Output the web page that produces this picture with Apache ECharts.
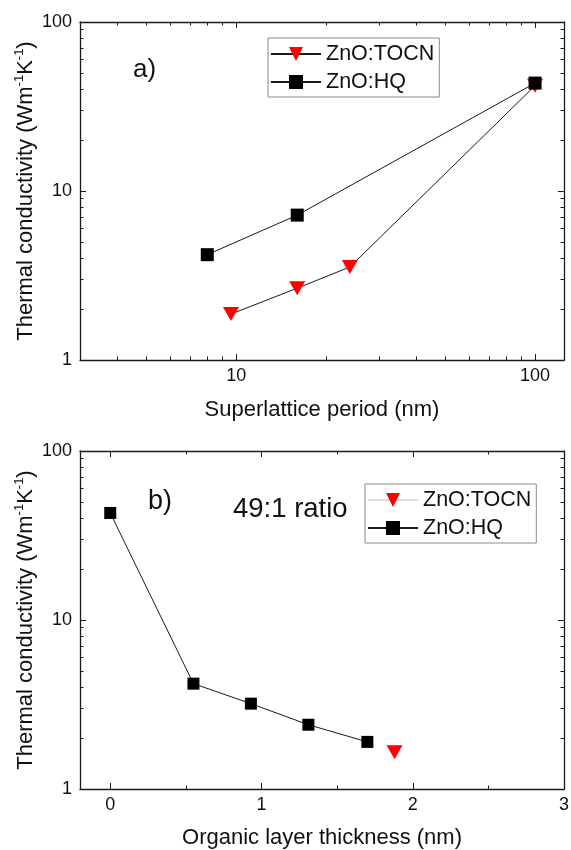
<!DOCTYPE html>
<html><head><meta charset="utf-8">
<script src="https://cdn.jsdelivr.net/npm/echarts@6/dist/echarts.min.js"></script>
<style>html,body{margin:0;padding:0;background:#fff}#c{width:571px;height:850px}</style>
</head><body><div id="c"></div><script>
// ---------- data ----------
const seriesNames = ['ZnO:TOCN', 'ZnO:HQ'];
// panel a) : superlattice period (nm) vs thermal conductivity
const periodTOCN = [9.6, 16, 24, 100];
const condTOCN_a = [1.87, 2.66, 3.55, 42];
const periodHQ = [8, 16, 100];
const condHQ_a = [4.2, 7.2, 43.5];
// panel b) : organic layer thickness (nm) vs thermal conductivity
const thickHQ = [0, 0.55, 0.93, 1.31, 1.70];
const condHQ_b = [43, 4.2, 3.2, 2.4, 1.9];
const thickTOCN = [1.88];
const condTOCN_b = [1.65];
// tick values
const periodMajorTicks = [10, 100];
const periodMinorTicks = [4, 5, 6, 7, 8, 9, 20, 30, 40, 50, 60, 70, 80, 90];
const condMajorTicks = [1, 10, 100];
const condMinorTicks = [2, 3, 4, 5, 6, 7, 8, 9, 20, 30, 40, 50, 60, 70, 80, 90];
const thickMajorTicks = [0, 1, 2, 3];
const thickMinorTicks = [0.5, 1.5, 2.5];

// ---------- styles ----------
const FONT = '"Liberation Sans", Arial, sans-serif';
const AX = '#1a1a1a';
const TXT = '#111';
const RED = '#ff0000';
const TRI = 'path://M0,0 L10,0 L5,9 Z';

const yName = '{n|Thermal conductivity (Wm}{s|-1}{n|K}{s|-1}{n|)}';
const nameRich = {
  n: {fontSize: 22, fontFamily: FONT, color: TXT, lineHeight: 26, verticalAlign: 'middle'},
  s: {fontSize: 13, fontFamily: FONT, color: TXT, lineHeight: 14, verticalAlign: 'top'}
};

function makeAxes(dim, gridIndex, type, min, max, major, minor, labels, name, nameGap) {
  const common = {gridIndex: gridIndex, type: type, min: min, max: max,
    splitLine: {show: false}, minorTick: {show: false}, minorSplitLine: {show: false}};
  if (type === 'log') common.logBase = 10;
  const line = {show: true, onZero: false, lineStyle: {color: AX, width: 1.3}};
  const noLine = {show: false, onZero: false};
  const tick = (vals, len) => ({show: true, inside: true, length: len, customValues: vals,
    lineStyle: {color: AX, width: 1}});
  const mainPos = dim === 'x' ? 'bottom' : 'left';
  const oppPos = dim === 'x' ? 'top' : 'right';
  const main = Object.assign({}, common, {
    position: mainPos, axisLine: line, axisTick: tick(major, 6),
    axisLabel: {show: true, customValues: labels, margin: dim === 'x' ? 7 : 8,
      fontSize: 18, fontFamily: FONT, color: TXT},
    name: name, nameLocation: 'middle', nameGap: nameGap, nameMoveOverlap: false
  });
  if (dim === 'x') {
    main.nameTextStyle = {fontSize: 22, fontFamily: FONT, color: TXT};
  } else {
    main.nameTextStyle = {rich: nameRich};
  }
  return [
    main,
    Object.assign({}, common, {position: mainPos, axisLine: noLine, axisTick: tick(minor, 3.5), axisLabel: {show: false}}),
    Object.assign({}, common, {position: oppPos, axisLine: line, axisTick: tick(major, 6), axisLabel: {show: false}}),
    Object.assign({}, common, {position: oppPos, axisLine: noLine, axisTick: tick(minor, 3.5), axisLabel: {show: false}})
  ];
}

const xAxes = [].concat(
  makeAxes('x', 0, 'log', 3, 125, periodMajorTicks, periodMinorTicks, periodMajorTicks, 'Superlattice period (nm)', 39),
  makeAxes('x', 1, 'value', -0.2, 3, thickMajorTicks, thickMinorTicks, thickMajorTicks, 'Organic layer thickness (nm)', 38)
);
const yAxes = [].concat(
  makeAxes('y', 0, 'log', 1, 100, condMajorTicks, condMinorTicks, condMajorTicks, yName, 41),
  makeAxes('y', 1, 'log', 1, 100, condMajorTicks, condMinorTicks, condMajorTicks, yName, 41)
);

function pairs(xs, ys) { return xs.map((x, i) => [x, ys[i]]); }

const lineStyle = {color: AX, width: 1};
const legendCommon = {
  orient: 'vertical', itemWidth: 50, itemHeight: 17.5, itemGap: 6,
  padding: [5, 5, 4, 2], borderColor: '#8a8a8a', borderWidth: 1,
  backgroundColor: '#fff', selectedMode: false,
  textStyle: {fontSize: 21.5, fontFamily: FONT, color: TXT, lineHeight: 21}
};

const option = {
  backgroundColor: '#ffffff',
  animation: false,
  grid: [
    {left: 80, right: 7, top: 22, height: 338, containLabel: false, outerBoundsMode: 'none'},
    {left: 80, right: 7, top: 451, height: 338, containLabel: false, outerBoundsMode: 'none'}
  ],
  xAxis: xAxes,
  yAxis: yAxes,
  legend: [
    Object.assign({}, legendCommon, {left: 268, top: 38, data: [
      {name: seriesNames[0]}, {name: seriesNames[1]}
    ]}),
    Object.assign({}, legendCommon, {left: 365, top: 484, data: [
      {name: seriesNames[0], lineStyle: {color: '#dcdcdc'}}, {name: seriesNames[1]}
    ]})
  ],
  graphic: [
    {type: 'text', left: 133, top: 57, style: {text: 'a)', fontSize: 26, fontFamily: FONT, fill: TXT}},
    {type: 'text', left: 148, top: 488, style: {text: 'b)', fontSize: 27, fontFamily: FONT, fill: TXT}},
    {type: 'text', left: 233, top: 495, style: {text: '49:1 ratio', fontSize: 27.5, fontFamily: FONT, fill: TXT}}
  ],
  series: [
    {name: seriesNames[0], type: 'line', xAxisIndex: 0, yAxisIndex: 0,
      data: pairs(periodTOCN, condTOCN_a), symbol: TRI, symbolSize: [16, 14],
      itemStyle: {color: RED}, lineStyle: lineStyle},
    {name: seriesNames[1], type: 'line', xAxisIndex: 0, yAxisIndex: 0,
      data: pairs(periodHQ, condHQ_a), symbol: 'rect', symbolSize: 13,
      itemStyle: {color: '#000'}, lineStyle: lineStyle},
    {name: seriesNames[0], type: 'line', xAxisIndex: 4, yAxisIndex: 4,
      data: pairs(thickTOCN, condTOCN_b), symbol: TRI, symbolSize: [16, 14],
      itemStyle: {color: RED}, lineStyle: {color: '#dcdcdc', width: 1}},
    {name: seriesNames[1], type: 'line', xAxisIndex: 4, yAxisIndex: 4,
      data: pairs(thickHQ, condHQ_b), symbol: 'rect', symbolSize: 12,
      itemStyle: {color: '#000'}, lineStyle: lineStyle}
  ]
};

const chart = echarts.init(document.getElementById('c'), null, {renderer: 'canvas'});
chart.setOption(option);
</script></body></html>
